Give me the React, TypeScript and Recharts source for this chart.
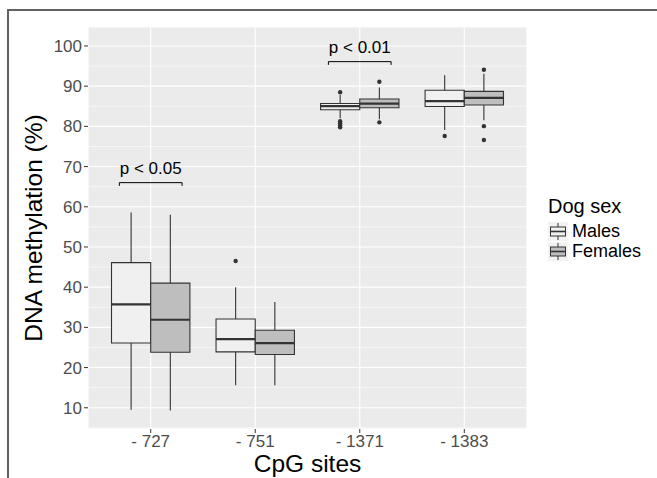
import { ComposedChart, XAxis, YAxis, CartesianGrid, ReferenceArea, ReferenceLine, Scatter } from 'recharts';

// CpG sites on the x axis
const categories = ['- 727', '- 751', '- 1371', '- 1383'];
const yTicks = [10, 20, 30, 40, 50, 60, 70, 80, 90, 100];
const yMinor = [5, 15, 25, 35, 45, 55, 65, 75, 85, 95];

// box stats, one value per site
const maleLow = [9.5, 15.6, 82.0, 79.1];
const maleQ1 = [26.1, 23.9, 84.15, 84.95];
const maleMedian = [35.7, 27.1, 85.05, 86.3];
const maleQ3 = [46.1, 32.1, 85.7, 89.0];
const maleHigh = [58.6, 40.0, 87.8, 92.7];
const maleOutliers = [[], [46.5], [88.5, 81.3, 80.8, 80.3, 79.8], [77.6]];

const femaleLow = [9.3, 15.6, 81.8, 81.5];
const femaleQ1 = [23.8, 23.25, 84.65, 85.3];
const femaleMedian = [31.9, 26.1, 85.65, 87.1];
const femaleQ3 = [41.0, 29.3, 86.8, 88.7];
const femaleHigh = [58.0, 36.3, 89.7, 93.1];
const femaleOutliers = [[], [], [91.1, 81.0], [94.1, 80.05, 76.6]];

// significance brackets: site, bracket height, label
const brackets = [
  { site: 1, y: 66, label: 'p < 0.05' },
  { site: 3, y: 96.1, label: 'p < 0.01' },
];

const BOX = 0.375;
const INK = '#333333';

const groups = [
  { name: 'Males', fill: '#F0F0F0', shift: -1, low: maleLow, q1: maleQ1, med: maleMedian, q3: maleQ3, high: maleHigh, out: maleOutliers },
  { name: 'Females', fill: '#BEBEBE', shift: 0, low: femaleLow, q1: femaleQ1, med: femaleMedian, q3: femaleQ3, high: femaleHigh, out: femaleOutliers },
];

const outlierPoints = groups.flatMap(g =>
  g.out.flatMap((vals, i) => vals.map(v => ({ x: i + 1 + g.shift * BOX + BOX / 2, y: v })))
);

const Dot = (props: any) => <circle cx={props.cx} cy={props.cy} r={2.2} fill={INK} />;

function LegendKey({ fill }: { fill: string }) {
  return (
    <svg width={20} height={19} style={{ display: 'block' }}>
      <rect x={0} y={0} width={20} height={19} fill="#F2F2F2" />
      <line x1={10} y1={1} x2={10} y2={5} stroke={INK} strokeWidth={1} />
      <line x1={10} y1={14} x2={10} y2={18} stroke={INK} strokeWidth={1} />
      <rect x={2.5} y={5} width={15} height={9} fill={fill} stroke={INK} strokeWidth={1} />
      <line x1={2.5} y1={9.5} x2={17.5} y2={9.5} stroke={INK} strokeWidth={1.6} />
    </svg>
  );
}

export default function App() {
  return (
    <div style={{ position: 'absolute', left: 0, top: 0, width: 657, height: 478, overflow: 'hidden', background: '#fff', fontFamily: '"Liberation Sans", Arial, sans-serif' }}>
      <div style={{ position: 'absolute', left: 7, top: 9, width: 700, height: 520, borderLeft: '2px solid #616161', borderTop: '2px solid #616161' }} />
      <ComposedChart width={657} height={478} margin={{ top: 27, right: 130, left: 0, bottom: 0 }} style={{ position: 'absolute', left: 0, top: 0 }}>
        <CartesianGrid fill="#EBEBEB" stroke="#FFFFFF" strokeWidth={0.55} vertical={false} horizontalValues={yMinor} />
        <CartesianGrid stroke="#FFFFFF" strokeWidth={1.1} />
        <XAxis
          type="number"
          dataKey="x"
          domain={[0.4, 4.6]}
          ticks={[1, 2, 3, 4]}
          interval={0}
          allowDataOverflow
          height={49}
          tickSize={4}
          tickLine={{ stroke: INK }}
          axisLine={false}
          tick={{ fill: '#4D4D4D', fontSize: 17 }}
          tickFormatter={(v: number) => categories[v - 1]}
          label={{
            content: (p: any) => (
              <text x={p.viewBox.x + p.viewBox.width / 2} y={p.viewBox.y + 43} textAnchor="middle" fontSize={24.5} fill="#000">
                CpG sites
              </text>
            ),
          }}
        />
        <YAxis
          type="number"
          dataKey="y"
          domain={[4.72, 104.72]}
          ticks={yTicks}
          interval={0}
          allowDataOverflow
          width={88}
          tickSize={4}
          tickLine={{ stroke: INK }}
          axisLine={false}
          tick={{ fill: '#4D4D4D', fontSize: 17 }}
          label={{
            content: (p: any) => {
              const cx = p.viewBox.x + 33;
              const cy = p.viewBox.y + p.viewBox.height / 2;
              return (
                <text x={cx} y={cy} transform={`rotate(-90 ${cx} ${cy})`} textAnchor="middle" dominantBaseline="central" fontSize={24.5} fill="#000">
                  DNA methylation (%)
                </text>
              );
            },
          }}
        />

        {/* whiskers */}
        {groups.flatMap(g =>
          categories.map((_, i) => {
            const cx = i + 1 + g.shift * BOX + BOX / 2;
            return [
              <ReferenceLine key={`hi-${g.name}-${i}`} segment={[{ x: cx, y: g.q3[i] }, { x: cx, y: g.high[i] }]} stroke={INK} strokeWidth={1.1} ifOverflow="visible" />,
              <ReferenceLine key={`lo-${g.name}-${i}`} segment={[{ x: cx, y: g.q1[i] }, { x: cx, y: g.low[i] }]} stroke={INK} strokeWidth={1.1} ifOverflow="visible" />,
            ];
          })
        )}

        {/* boxes */}
        {groups.flatMap(g =>
          categories.map((_, i) => (
            <ReferenceArea
              key={`box-${g.name}-${i}`}
              x1={i + 1 + g.shift * BOX}
              x2={i + 1 + (g.shift + 1) * BOX}
              y1={g.q1[i]}
              y2={g.q3[i]}
              fill={g.fill}
              fillOpacity={1}
              stroke={INK}
              strokeWidth={1.1}
              ifOverflow="visible"
            />
          ))
        )}

        {/* medians */}
        {groups.flatMap(g =>
          categories.map((_, i) => (
            <ReferenceLine
              key={`med-${g.name}-${i}`}
              segment={[{ x: i + 1 + g.shift * BOX, y: g.med[i] }, { x: i + 1 + (g.shift + 1) * BOX, y: g.med[i] }]}
              stroke={INK}
              strokeWidth={2.2}
              ifOverflow="visible"
            />
          ))
        )}

        <Scatter data={outlierPoints} dataKey="y" shape={Dot} isAnimationActive={false} />

        {/* significance brackets */}
        {brackets.flatMap(b => [
          <ReferenceLine
            key={`br-${b.site}`}
            segment={[{ x: b.site - 0.3, y: b.y }, { x: b.site + 0.3, y: b.y }]}
            stroke="#000"
            strokeWidth={1}
            ifOverflow="visible"
            label={{ value: b.label, position: 'top', offset: 9, fill: '#000', fontSize: 17 }}
          />,
          <ReferenceLine key={`brl-${b.site}`} segment={[{ x: b.site - 0.3, y: b.y }, { x: b.site - 0.3, y: b.y - 0.8 }]} stroke="#000" strokeWidth={1} ifOverflow="visible" />,
          <ReferenceLine key={`brr-${b.site}`} segment={[{ x: b.site + 0.3, y: b.y }, { x: b.site + 0.3, y: b.y - 0.8 }]} stroke="#000" strokeWidth={1} ifOverflow="visible" />,
        ])}
      </ComposedChart>

      {/* legend */}
      <div style={{ position: 'absolute', left: 548, top: 194, color: '#000' }}>
        <div style={{ fontSize: 20, lineHeight: '24px', marginBottom: 3 }}>Dog sex</div>
        {groups.map(g => (
          <div key={g.name} style={{ display: 'flex', alignItems: 'center', height: 20 }}>
            <LegendKey fill={g.fill} />
            <span style={{ fontSize: 18, marginLeft: 4 }}>{g.name}</span>
          </div>
        ))}
      </div>
    </div>
  );
}
